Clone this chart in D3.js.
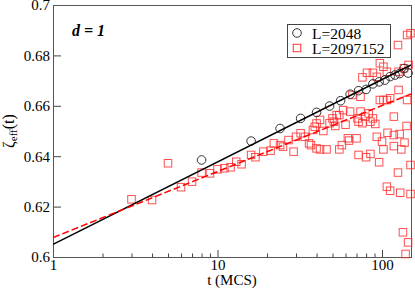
<!DOCTYPE html>
<html>
<head>
<meta charset="utf-8">
<script src="https://cdn.jsdelivr.net/npm/d3@7"></script>
<style>
  body { margin: 0; background: #fff; }
  svg { font-family: "Liberation Serif", "DejaVu Serif", serif; }
  .axis path { display: none; }
  .axis line { stroke: #444; }
  .axis text { font-size: 15px; fill: #000; font-family: "Liberation Serif", serif; }
</style>
</head>
<body>
<div id="chart"></div>
<script>
// data
const circleT = [8, 16, 24, 32, 40, 48, 56, 64, 72, 80, 88, 96, 104, 112, 120, 128, 136, 144];
const circleY = [0.6385, 0.6460, 0.6510, 0.6550, 0.6574, 0.6599, 0.6620, 0.6646, 0.6660, 0.6665,
  0.6687, 0.6695, 0.6702, 0.6716, 0.6722, 0.6728, 0.6748, 0.6730];

const squareT = [3, 4, 5, 6, 7, 8, 9, 10, 11, 12, 13, 14, 16, 17, 19, 21, 22, 24, 25, 27,
  29, 30, 32, 34, 36, 38, 40, 40, 37, 39, 42, 42, 44, 46, 48, 50, 51, 52, 53, 55,
  55, 57, 58, 60, 62, 63, 64, 66, 70, 71, 72, 72, 74, 74, 76, 76, 79, 80, 81, 83,
  85, 85, 88, 88, 91, 93, 93, 96, 97, 97, 100, 102, 102, 102, 107, 107, 107, 108, 112, 112,
  118, 118, 118, 125, 125, 126, 126, 128, 129, 131, 134, 136, 137, 139, 141, 142, 142, 144, 145, 149,
  149, 149];
const squareY = [0.6229, 0.6226, 0.6372, 0.6277, 0.6299, 0.6335, 0.6332, 0.6348, 0.6352, 0.6356,
  0.6378, 0.6368, 0.6405, 0.6396, 0.6418, 0.6422, 0.6451, 0.6444, 0.6438, 0.6464,
  0.6418, 0.6477, 0.6491, 0.6477, 0.6451, 0.6504, 0.6530, 0.6431, 0.6444, 0.6517,
  0.6427, 0.6544, 0.6500, 0.6427, 0.6531, 0.6550, 0.6537, 0.6520, 0.6563, 0.6427,
  0.6563, 0.6444, 0.6583, 0.6525, 0.6471, 0.6462, 0.6577, 0.6643, 0.6471, 0.6550,
  0.6405, 0.6537, 0.6636, 0.6577, 0.6531, 0.6713, 0.6557, 0.6396, 0.6731, 0.6570,
  0.6409, 0.6537, 0.6731, 0.6550, 0.6528, 0.6477, 0.6715, 0.6376, 0.6769, 0.6623,
  0.6458, 0.6427, 0.6755, 0.6623, 0.6279, 0.6735, 0.6623, 0.6493, 0.6263, 0.6630,
  0.6440, 0.6484, 0.6557, 0.6335, 0.6841, 0.6735, 0.6663, 0.6488, 0.6255, 0.6427,
  0.6098, 0.6749, 0.6454, 0.6012, 0.6520, 0.6881, 0.6623, 0.6058, 0.6762, 0.6888,
  0.6365, 0.6250];

// fitted lines, end points
const fitT = [1, 150];
const blackFit = [0.605, 0.6762];
const redFit = [0.6077, 0.6647];

const xMajor = [1, 10, 100];
const xMinor = [2, 3, 4, 5, 6, 7, 8, 9, 20, 30, 40, 50, 60, 70, 80, 90];
const yTicks = [0.6, 0.62, 0.64, 0.66, 0.68, 0.7];
const legendLabels = ["L=2048", "L=2097152"];

// sizes
const svgWidth = 415;
const svgHeight = 290;
const margin = { top: 5, right: 4, bottom: 33, left: 53 };
const width = svgWidth - margin.left - margin.right;
const height = svgHeight - margin.top - margin.bottom;

const svg = d3.select("#chart")
  .append("svg")
  .attr("width", svgWidth)
  .attr("height", svgHeight);

const chartGroup = svg.append("g")
  .attr("transform", `translate(${margin.left}, ${margin.top})`);

const x = d3.scaleLog().domain([1, 150]).range([0, width]);
const y = d3.scaleLinear().domain([0.6, 0.7]).range([height, 0]);

// axes, ticks pointing inward
chartGroup.append("g")
  .attr("class", "axis")
  .attr("transform", `translate(0, ${height})`)
  .call(d3.axisBottom(x).tickValues(xMajor).tickFormat(d3.format("d"))
    .tickSizeInner(-7).tickSizeOuter(0).tickPadding(2));

chartGroup.append("g")
  .attr("class", "axis")
  .attr("transform", `translate(0, ${height})`)
  .call(d3.axisBottom(x).tickValues(xMinor).tickFormat("")
    .tickSizeInner(-3.5).tickSizeOuter(0));

chartGroup.append("g")
  .attr("class", "axis")
  .call(d3.axisLeft(y).tickValues(yTicks).tickFormat(d => d3.format("")(+d.toFixed(2)))
    .tickSizeInner(-8).tickSizeOuter(0).tickPadding(3));

// frame
chartGroup.append("rect")
  .attr("x", 0.5)
  .attr("y", 0.5)
  .attr("width", width)
  .attr("height", height)
  .attr("fill", "none")
  .attr("stroke", "#555")
  .attr("stroke-width", 1);

// red squares
const sq = 7.5;
chartGroup.selectAll(".sq")
  .data(squareT.map((t, i) => [t, squareY[i]]))
  .enter()
  .append("rect")
  .attr("class", "sq")
  .attr("x", d => x(d[0]) - sq / 2)
  .attr("y", d => y(d[1]) - sq / 2)
  .attr("width", sq)
  .attr("height", sq)
  .attr("fill", "none")
  .attr("stroke", "#ff3030")
  .attr("stroke-opacity", 0.85)
  .attr("stroke-width", 1);

// black circles
chartGroup.selectAll(".circ")
  .data(circleT.map((t, i) => [t, circleY[i]]))
  .enter()
  .append("circle")
  .attr("class", "circ")
  .attr("cx", d => x(d[0]))
  .attr("cy", d => y(d[1]))
  .attr("r", 4.3)
  .attr("fill", "none")
  .attr("stroke", "#333")
  .attr("stroke-width", 1);

// fit lines
const line = d3.line().x(d => x(d[0])).y(d => y(d[1]));

chartGroup.append("path")
  .datum(fitT.map((t, i) => [t, blackFit[i]]))
  .attr("d", line)
  .attr("fill", "none")
  .attr("stroke", "#000")
  .attr("stroke-width", 1.5);

chartGroup.append("path")
  .datum(fitT.map((t, i) => [t, redFit[i]]))
  .attr("d", line)
  .attr("fill", "none")
  .attr("stroke", "#ff0000")
  .attr("stroke-width", 1.5)
  .attr("stroke-dasharray", "7,3");

// d = 1
svg.append("text")
  .attr("x", 72)
  .attr("y", 36)
  .attr("font-size", "16px")
  .attr("font-weight", "bold")
  .attr("font-style", "italic")
  .text("d = 1");

// legend
const legend = svg.append("g").attr("transform", "translate(287, 24)");
legend.append("rect")
  .attr("x", 0.5)
  .attr("y", 0.5)
  .attr("width", 103)
  .attr("height", 33)
  .attr("fill", "#fff")
  .attr("stroke", "#444");
legend.append("circle")
  .attr("cx", 10)
  .attr("cy", 9)
  .attr("r", 4.3)
  .attr("fill", "none")
  .attr("stroke", "#333");
legend.append("rect")
  .attr("x", 10 - sq / 2)
  .attr("y", 24 - sq / 2)
  .attr("width", sq)
  .attr("height", sq)
  .attr("fill", "none")
  .attr("stroke", "#ff3030");
legend.selectAll(".lab")
  .data(legendLabels)
  .enter()
  .append("text")
  .attr("x", 25)
  .attr("y", (d, i) => 14.5 + i * 15)
  .attr("font-size", "15.5px")
  .text(d => d);

// axis titles
svg.append("text")
  .attr("x", margin.left + width / 2)
  .attr("y", 285)
  .attr("text-anchor", "middle")
  .attr("font-size", "15px")
  .text("t (MCS)");

const yTitle = svg.append("text")
  .attr("transform", `translate(14, ${margin.top + height / 2}) rotate(-90)`)
  .attr("text-anchor", "middle")
  .attr("font-size", "16px");
yTitle.append("tspan").text("ζ");
yTitle.append("tspan").attr("font-size", "11px").attr("dy", 3).text("eff");
yTitle.append("tspan").attr("dy", -3).text("(t)");
</script>
</body>
</html>
